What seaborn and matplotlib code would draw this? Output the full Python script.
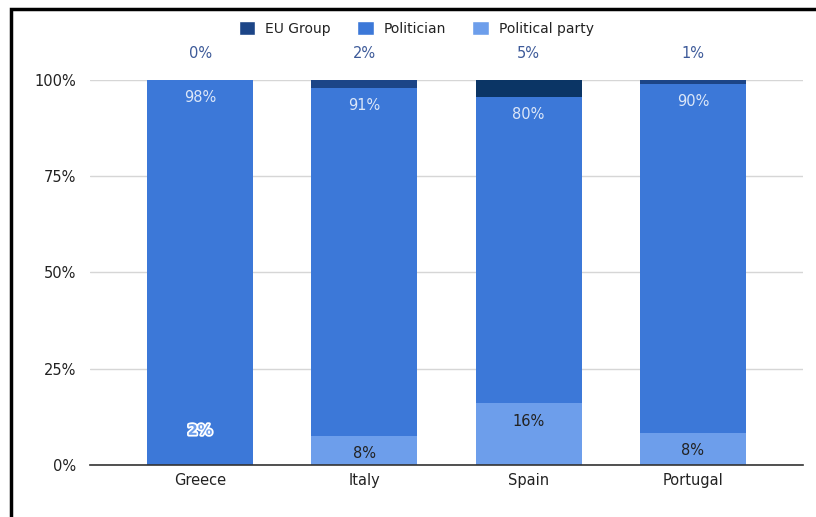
import matplotlib
matplotlib.use("Agg")
import matplotlib.pyplot as plt
import matplotlib.patheffects as pe
from matplotlib.patches import Patch, Rectangle
import pandas as pd
import seaborn as sns

countries = ["Greece", "Italy", "Spain", "Portugal"]
eu_group = [0, 2, 4.5, 1]
politician = [100, 90.5, 79.5, 90.7]
political_party = [0, 7.5, 16, 8.3]
eu_labels = ["0%", "2%", "5%", "1%"]
politician_labels = ["98%", "91%", "80%", "90%"]
party_labels = ["2%", "8%", "16%", "8%"]
y_ticks = [0, 25, 50, 75, 100]

C_EU = "#1c4587"
C_POL = "#3c78d8"
C_PARTY = "#6d9eeb"

sns.set_theme(style="white")
plt.rcParams["font.family"] = ["DejaVu Sans"]

df = pd.DataFrame({
    "country": countries,
    "eu": eu_group,
    "politician": politician,
    "party": political_party,
})
df["pol_bottom"] = df["party"]
df["eu_bottom"] = df["party"] + df["politician"]

fig = plt.figure(figsize=(8.16, 5.17), dpi=100)
ax = fig.add_axes([0.1103, 0.1006, 0.8737, 0.7447])

bw = 0.645
sns.barplot(data=df, x="country", y="party", color=C_PARTY, width=bw, ax=ax,
            saturation=1, edgecolor="none", linewidth=0)
sns.barplot(data=df, x="country", y="politician", bottom=df["pol_bottom"], color=C_POL,
            width=bw, ax=ax, saturation=1, edgecolor="none", linewidth=0)
sns.barplot(data=df, x="country", y="eu", bottom=df["eu_bottom"], color=C_EU,
            width=bw, ax=ax, saturation=1, edgecolor="none", linewidth=0)
# Spain's EU Group segment is drawn darker in the original
ax.patches[-2].set_facecolor("#0b3565")

ax.set_xlim(-0.67, 3.67)
ax.set_ylim(0, 100)
ax.set_yticks(y_ticks)
ax.set_yticklabels([f"{t}%" for t in y_ticks])
ax.set_xlabel("")
ax.set_ylabel("")
ax.grid(axis="y", color="#d6d6d6", linewidth=1)
ax.set_axisbelow(True)
for s in ["top", "right", "left"]:
    ax.spines[s].set_visible(False)
ax.spines["bottom"].set_color("#333333")
ax.spines["bottom"].set_linewidth(1.2)
ax.tick_params(axis="both", length=0, labelsize=10.5, colors="#222222", pad=10)
ax.tick_params(axis="x", pad=6)

for i in range(len(countries)):
    ax.text(i, 107, eu_labels[i], ha="center", va="center", fontsize=10.5,
            color="#3d5a99", clip_on=False)
    top_pol = df["eu_bottom"][i]
    ax.text(i, top_pol - 4.5, politician_labels[i], ha="center", va="center",
            fontsize=10.5, color="#dce7f8")
    if political_party[i] > 0:
        ax.text(i, political_party[i] - 4.6, party_labels[i], ha="center", va="center",
                fontsize=10.5, color="#222222")
    else:
        ax.text(i, 9.0, party_labels[i], ha="center", va="center", fontsize=10.5,
                color="#6d9eeb", fontweight="bold",
                path_effects=[pe.withStroke(linewidth=2.5, foreground="white")])

handles = [Patch(facecolor=C_EU, label="EU Group"),
           Patch(facecolor=C_POL, label="Politician"),
           Patch(facecolor=C_PARTY, label="Political party")]
fig.legend(handles=handles, loc="center", bbox_to_anchor=(0.51, 0.945), ncol=3,
           frameon=False, fontsize=10, handlelength=1.2, handleheight=1.2,
           handletextpad=0.7, columnspacing=1.9, labelcolor="#222222")

fig.patches.append(Rectangle((0.0135, -0.1), 1.2, 1.082, transform=fig.transFigure,
                             fill=False, edgecolor="black", linewidth=2.5))

fig.savefig("out.png", dpi=100)
